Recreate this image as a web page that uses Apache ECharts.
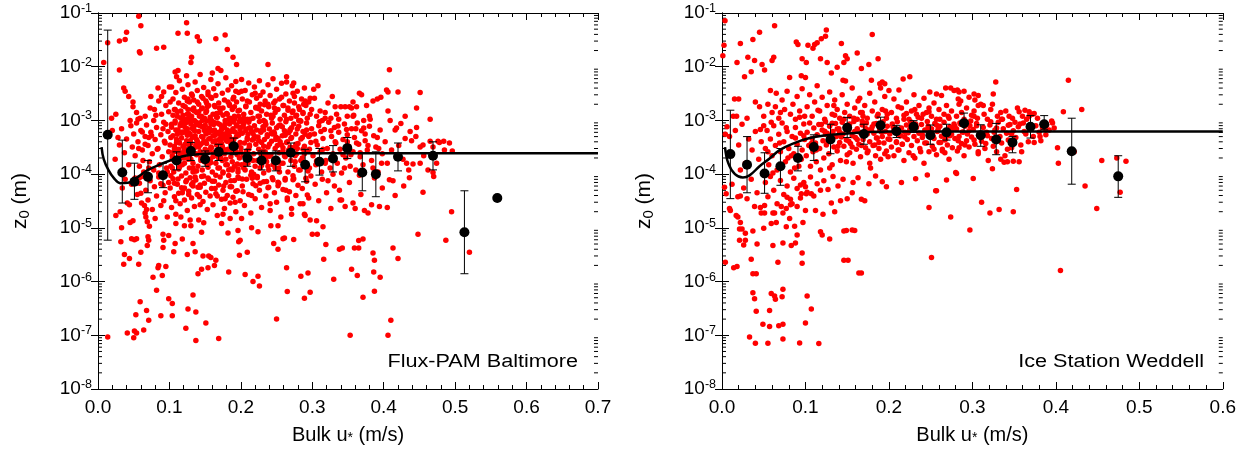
<!DOCTYPE html>
<html><head><meta charset="utf-8">
<script src="https://cdn.jsdelivr.net/npm/echarts@6/dist/echarts.min.js"></script>
<style>html,body{margin:0;padding:0;background:#fff}#c{width:1239px;height:455px}</style>
</head><body><div id="c"></div>
<script>
// ---------- DATA ----------
const xTicksLeft = [0,0.1,0.2,0.3,0.4,0.5,0.6,0.7];
const xTicksRight = [0,0.1,0.2,0.3,0.4,0.5,0.6];
const yDecades = [1e-8,1e-7,1e-6,1e-5,1e-4,1e-3,1e-2,1e-1];

const leftScatter = [
[0.008,1.2e-2],[0.0135,2.8e-2],[0.030,3.0e-2],[0.038,3.2e-2],[0.040,4.4e-2],[0.030,8.7e-3],[0.057,8.7e-2],[0.060,5.8e-2],[0.058,1.9e-2],[0.059,1.8e-2],[0.082,2.2e-2],[0.092,2.3e-2],[0.112,4.2e-2],[0.124,6.6e-2],[0.125,4.2e-2],[0.131,1.5e-2],[0.130,1.2e-2],[0.139,3.6e-2],[0.142,3.0e-2],[0.178,3.9e-2],[0.181,2.1e-2],[0.189,1.5e-2],[0.194,1.1e-2],[0.168,9.3e-3],[0.160,7.6e-3],[0.108,8.0e-3],[0.110,6.5e-3],[0.238,1.1e-2],[0.264,6.5e-3],[0.165,3.3e-2],[0.408,8.8e-3],
[0.019,1.1e-3],[0.036,4e-3],[0.038,3.5e-3],[0.043,2.8e-3],[0.049,2.2e-3],[0.049,1.8e-3],[0.025,1.3e-3],[0.045,1.0e-3],
[0.059,1.1e-3],[0.066,1.2e-3],[0.074,2.8e-3],[0.073,1.7e-3],[0.081,1.25e-3],[0.084,4e-3],[0.089,2.8e-3],[0.089,1.3e-3],[0.092,3.4e-3],[0.095,1.9e-3],[0.099,1.45e-3],[0.1,4.2e-3],[0.056,1.05e-3],[0.078,1.0e-3],
[0.103,4.2e-3],[0.105,2.5e-3],[0.107,1.6e-3],[0.109,3.3e-3],[0.111,1.2e-3],[0.113,2.1e-3],[0.114,5.5e-3],[0.116,1.5e-3],[0.118,3.8e-3],[0.119,1.05e-3],[0.121,2.7e-3],[0.122,1.8e-3],[0.124,6.8e-3],[0.125,1.3e-3],[0.126,4.6e-3],[0.128,2.2e-3],[0.129,1.1e-3],[0.131,3.1e-3],[0.132,1.6e-3],[0.134,2.4e-3],[0.135,1.0e-3],[0.136,5.2e-3],[0.138,1.4e-3],[0.139,3.6e-3],[0.141,2.0e-3],[0.142,1.2e-3],[0.143,7.2e-3],[0.145,2.8e-3],[0.146,1.7e-3],[0.148,4.1e-3],[0.149,1.1e-3],[0.151,2.3e-3],[0.152,1.5e-3],[0.154,3.4e-3],[0.155,1.9e-3],[0.157,1.05e-3],[0.158,5.8e-3],[0.159,2.6e-3],[0.161,1.3e-3],[0.162,3.9e-3],[0.164,1.8e-3],[0.165,2.9e-3],[0.167,1.15e-3],[0.168,4.8e-3],[0.169,2.1e-3],[0.171,1.4e-3],[0.172,8.5e-3],[0.174,3.2e-3],[0.175,1.7e-3],[0.177,2.4e-3],[0.178,1.0e-3],[0.179,6.2e-3],[0.181,1.3e-3],[0.182,3.7e-3],[0.184,2.0e-3],[0.185,1.1e-3],[0.187,4.4e-3],[0.188,1.6e-3],[0.19,2.7e-3],[0.191,1.2e-3],[0.193,5.3e-3],[0.194,2.2e-3],[0.196,1.5e-3],[0.197,3.3e-3],[0.199,1.05e-3],[0.112,8.5e-3],
[0.201,5.8e-3],[0.202,2.5e-3],[0.204,1.3e-3],[0.206,3.6e-3],[0.207,1.8e-3],[0.209,1.05e-3],[0.211,5.0e-3],[0.212,2.2e-3],[0.214,1.4e-3],[0.216,3.0e-3],[0.217,1.1e-3],[0.219,4.2e-3],[0.221,1.7e-3],[0.222,2.6e-3],[0.224,1.2e-3],[0.226,5.5e-3],[0.227,2.0e-3],[0.229,1.5e-3],[0.231,3.4e-3],[0.232,1.0e-3],[0.234,2.3e-3],[0.236,1.3e-3],[0.238,4.6e-3],[0.239,1.8e-3],[0.241,2.9e-3],[0.243,1.1e-3],[0.245,6.0e-3],[0.246,2.1e-3],[0.248,1.4e-3],[0.25,3.8e-3],[0.252,1.6e-3],[0.254,2.5e-3],[0.255,1.05e-3],[0.257,4.9e-3],[0.259,1.9e-3],[0.261,1.25e-3],[0.263,3.1e-3],[0.264,5.2e-3],[0.266,1.7e-3],[0.268,2.3e-3],[0.27,1.1e-3],[0.272,4.4e-3],[0.273,1.5e-3],[0.275,2.8e-3],[0.277,1.2e-3],[0.279,3.5e-3],[0.281,1.8e-3],[0.283,1.0e-3],[0.285,2.5e-3],[0.287,1.4e-3],[0.289,4.0e-3],[0.291,1.9e-3],[0.293,1.1e-3],[0.295,2.2e-3],[0.297,1.3e-3],[0.299,1.6e-3],[0.274,5e-3],[0.273,3.2e-3],[0.29,2.3e-3],[0.297,2.6e-3],
[0.303,2.6e-3],[0.306,1.2e-3],[0.311,1.5e-3],[0.308,4.4e-3],[0.314,1.0e-3],[0.318,1.4e-3],[0.322,2.1e-3],[0.326,1.1e-3],[0.332,1.8e-3],[0.334,1.3e-3],[0.337,1.05e-3],[0.340,1.8e-3],[0.346,1.8e-3],[0.349,1.2e-3],[0.352,1.8e-3],[0.355,1.7e-3],[0.357,2.2e-3],[0.362,1.8e-3],[0.366,3.2e-3],[0.369,3.0e-3],[0.372,1.0e-3],[0.376,1.9e-3],[0.380,1.2e-3],[0.385,2.3e-3],[0.391,2.5e-3],[0.396,2.7e-3],[0.404,3.7e-3],[0.406,3.4e-3],[0.406,1.5e-3],[0.409,1.0e-3],[0.42,3.4e-3],[0.446,1.7e-3],[0.451,3.3e-3],[0.430,1.2e-3],[0.465,1.05e-3],
[0.02,6.5e-4],[0.024,1.9e-4],[0.03,3.5e-4],[0.033,7e-4],[0.037,2.5e-4],[0.04,4.5e-4],[0.043,1.5e-4],[0.046,8e-4],[0.048,3.2e-4],[0.05,5.6e-4],[0.035,1.2e-4],[0.028,4.8e-4],
[0.052,2.2e-4],[0.054,9e-4],[0.056,4e-4],[0.058,1.4e-4],[0.06,6.5e-4],[0.062,2.8e-4],[0.064,1.1e-4],[0.066,5e-4],[0.068,8.2e-4],[0.07,3.4e-4],[0.072,1.7e-4],[0.074,6e-4],[0.076,2.4e-4],[0.078,1.2e-4],[0.08,4.4e-4],[0.082,7.4e-4],[0.084,3e-4],[0.086,1.5e-4],[0.088,5.4e-4],[0.09,2.1e-4],[0.092,9.2e-4],[0.094,3.8e-4],[0.096,1.3e-4],[0.098,6.2e-4],[0.099,2.6e-4],[0.063,1.8e-4],[0.071,4.8e-4],[0.085,1.05e-4],[0.091,7e-4],[0.057,3e-4],
[0.101,3.5e-4],[0.102,1.4e-4],[0.103,7.5e-4],[0.104,2.2e-4],[0.105,5.2e-4],[0.106,1.1e-4],[0.107,3.0e-4],[0.108,9.0e-4],[0.109,1.7e-4],[0.11,4.4e-4],[0.111,2.6e-4],[0.112,6.6e-4],[0.113,1.25e-4],[0.114,3.8e-4],[0.115,8.0e-4],[0.116,2.0e-4],[0.117,5.8e-4],[0.118,1.5e-4],[0.119,3.3e-4],[0.12,9.6e-4],[0.121,2.4e-4],[0.122,6.0e-4],[0.123,1.05e-4],[0.124,4.2e-4],[0.125,7.0e-4],[0.126,1.9e-4],[0.127,3.6e-4],[0.128,1.3e-4],[0.129,5.5e-4],[0.13,8.6e-4],[0.131,2.8e-4],[0.132,4.8e-4],[0.133,1.6e-4],[0.134,6.8e-4],[0.135,3.1e-4],[0.136,1.15e-4],[0.137,9.3e-4],[0.138,2.3e-4],[0.139,4.1e-4],[0.14,1.4e-4],[0.141,6.2e-4],[0.142,3.4e-4],[0.143,8.0e-4],[0.144,2.0e-4],[0.145,5.0e-4],[0.146,1.2e-4],[0.147,3.9e-4],[0.148,7.4e-4],[0.149,1.7e-4],[0.15,2.9e-4],[0.151,5.6e-4],[0.152,9.8e-4],[0.153,2.5e-4],[0.154,1.35e-4],[0.155,4.5e-4],[0.156,7.2e-4],[0.157,1.9e-4],[0.158,3.2e-4],[0.159,6.4e-4],[0.16,1.1e-4],[0.161,4.0e-4],[0.162,8.4e-4],[0.163,2.2e-4],[0.164,5.3e-4],[0.165,1.6e-4],[0.166,3.5e-4],[0.167,9.0e-4],[0.168,2.7e-4],[0.169,6.0e-4],[0.17,1.3e-4],[0.171,4.6e-4],[0.172,2.0e-4],[0.173,7.8e-4],[0.174,3.3e-4],[0.175,1.05e-4],[0.176,5.5e-4],[0.177,2.4e-4],[0.178,8.8e-4],[0.179,1.5e-4],[0.18,4.2e-4],[0.181,6.6e-4],[0.182,2.9e-4],[0.183,1.2e-4],[0.184,5.0e-4],[0.185,9.5e-4],[0.186,2.1e-4],[0.187,3.7e-4],[0.188,1.7e-4],[0.189,7.0e-4],[0.19,4.4e-4],[0.191,1.4e-4],[0.192,6.1e-4],[0.193,2.6e-4],[0.194,8.2e-4],[0.195,3.4e-4],[0.196,1.1e-4],[0.197,5.3e-4],[0.198,2.0e-4],[0.199,7.5e-4],[0.2,3.1e-4],
[0.201,1.5e-4],[0.202,5.8e-4],[0.203,2.3e-4],[0.204,8.7e-4],[0.205,3.8e-4],[0.206,1.2e-4],[0.207,6.4e-4],[0.208,2.7e-4],[0.209,4.7e-4],[0.21,1.6e-4],[0.211,9.2e-4],[0.212,3.3e-4],[0.213,2.0e-4],[0.214,7.0e-4],[0.215,1.1e-4],[0.216,4.3e-4],[0.217,5.7e-4],[0.218,2.4e-4],[0.219,8.0e-4],[0.22,1.4e-4],[0.221,3.6e-4],[0.222,6.6e-4],[0.223,1.8e-4],[0.224,4.9e-4],[0.225,2.9e-4],[0.226,9.6e-4],[0.227,1.3e-4],[0.228,6.0e-4],[0.229,3.9e-4],[0.23,2.2e-4],[0.231,7.6e-4],[0.232,1.05e-4],[0.233,4.4e-4],[0.234,2.6e-4],[0.235,8.5e-4],[0.236,1.7e-4],[0.237,5.4e-4],[0.238,3.2e-4],[0.239,1.2e-4],[0.24,6.9e-4],[0.242,2.3e-4],[0.243,4.1e-4],[0.244,9.0e-4],[0.245,1.5e-4],[0.247,5.8e-4],[0.248,3.0e-4],[0.249,1.9e-4],[0.25,7.3e-4],[0.252,4.6e-4],[0.253,1.3e-4],[0.254,2.5e-4],[0.255,8.2e-4],[0.257,3.5e-4],[0.258,5.2e-4],[0.259,1.6e-4],[0.261,6.4e-4],[0.262,2.1e-4],[0.263,9.4e-4],[0.265,4.0e-4],[0.266,1.1e-4],[0.267,2.8e-4],[0.269,6.8e-4],[0.27,1.8e-4],[0.271,4.8e-4],[0.273,3.1e-4],[0.274,8.6e-4],[0.275,1.4e-4],[0.277,5.6e-4],[0.278,2.4e-4],[0.28,3.7e-4],[0.281,7.8e-4],[0.283,1.2e-4],[0.284,4.5e-4],[0.286,2.0e-4],[0.287,6.2e-4],[0.289,3.3e-4],[0.29,1.6e-4],[0.292,9.0e-4],[0.293,2.7e-4],[0.295,5.0e-4],[0.296,1.3e-4],[0.298,3.9e-4],[0.299,7.0e-4],
[0.301,2.2e-4],[0.303,5.6e-4],[0.305,1.5e-4],[0.307,3.5e-4],[0.309,8.0e-4],[0.311,2.6e-4],[0.313,1.1e-4],[0.315,4.6e-4],[0.317,6.8e-4],[0.319,1.8e-4],[0.321,3.0e-4],[0.323,9.2e-4],[0.325,1.3e-4],[0.327,5.0e-4],[0.329,2.4e-4],[0.331,7.4e-4],[0.333,3.8e-4],[0.335,1.6e-4],[0.337,6.0e-4],[0.339,2.9e-4],[0.341,1.05e-4],[0.343,4.4e-4],[0.345,8.6e-4],[0.347,2.0e-4],[0.349,5.4e-4],[0.351,3.3e-4],[0.353,1.4e-4],[0.355,7.0e-4],[0.357,2.6e-4],[0.359,4.8e-4],[0.361,1.2e-4],[0.363,9.0e-4],[0.365,3.6e-4],[0.367,2.1e-4],[0.369,6.4e-4],[0.371,1.5e-4],[0.374,4.2e-4],[0.377,2.8e-4],[0.38,7.8e-4],[0.383,1.8e-4],[0.386,5.2e-4],[0.389,3.2e-4],[0.392,1.1e-4],[0.395,6.6e-4],[0.398,2.4e-4],
[0.418,7.2e-4],[0.416,6.6e-4],[0.446,7.4e-4],[0.445,5.0e-4],[0.439,4.2e-4],[0.451,3.2e-4],[0.455,3.5e-4],[0.465,4.1e-4],[0.476,4.1e-4],[0.484,4.1e-4],[0.485,2.8e-4],[0.469,3.2e-4],[0.474,1.6e-4],[0.469,1.07e-4],[0.408,7.9e-5],[0.435,1.2e-4],[0.432,1.6e-4],[0.441,1.55e-4],[0.451,1.6e-4],[0.402,4.0e-4],[0.405,1.6e-4],[0.411,2.8e-4],[0.421,3.4e-4],[0.424,8.8e-4],[0.427,1.9e-4],[0.43,4.6e-4],[0.437,6.2e-4],[0.492,3.8e-4],[0.496,2.7e-4],[0.478,3.9e-4],[0.456,2.2e-4],[0.462,1.2e-4],
[0.025,1.7e-5],[0.031,2e-5],[0.041,2.9e-5],[0.044,2.7e-5],[0.045,1.26e-5],[0.049,1.35e-5],[0.038,8e-5],[0.034,5.5e-5],[0.047,6.5e-5],
[0.052,8.5e-5],[0.055,4.2e-5],[0.058,6.8e-5],[0.061,2.9e-5],[0.064,9e-5],[0.065,2.6e-5],[0.066,1.9e-5],[0.067,1.6e-5],[0.067,5e-5],[0.07,3.3e-5],[0.073,7.5e-5],[0.076,2.2e-5],[0.079,5.8e-5],[0.082,3.9e-5],[0.085,8.8e-5],[0.088,2.6e-5],[0.091,6.2e-5],[0.094,4.5e-5],[0.097,1.6e-5],[0.099,7e-5],[0.08,1.5e-5],[0.092,3.2e-5],
[0.101,5.5e-5],[0.103,2.4e-5],[0.105,8.2e-5],[0.107,3.8e-5],[0.109,1.8e-5],[0.111,6.5e-5],[0.113,4.4e-5],[0.115,2.8e-5],[0.117,9.2e-5],[0.119,5.2e-5],[0.121,3.3e-5],[0.123,7.2e-5],[0.125,2.1e-5],[0.127,4.8e-5],[0.129,8.6e-5],[0.131,3.6e-5],[0.133,6.0e-5],[0.135,2.5e-5],[0.137,7.8e-5],[0.139,4.2e-5],[0.141,1.4e-5],[0.143,5.7e-5],[0.145,9.0e-5],[0.147,3.1e-5],[0.149,6.8e-5],[0.151,4.6e-5],[0.153,2.2e-5],[0.155,8.0e-5],[0.157,3.9e-5],[0.159,5.4e-5],[0.161,2.7e-5],[0.163,7.4e-5],[0.165,4.3e-5],[0.167,1.7e-5],[0.169,6.3e-5],[0.171,8.8e-5],[0.173,3.4e-5],[0.175,5.0e-5],[0.177,2.3e-5],[0.179,7.0e-5],[0.181,4.0e-5],[0.183,9.4e-5],[0.185,2.9e-5],[0.187,5.8e-5],[0.189,3.7e-5],[0.191,7.6e-5],[0.193,2.0e-5],[0.195,4.9e-5],[0.197,8.4e-5],[0.199,3.2e-5],
[0.202,6.0e-5],[0.205,2.6e-5],[0.208,8.0e-5],[0.211,4.2e-5],[0.214,1.9e-5],[0.217,6.6e-5],[0.22,3.5e-5],[0.223,9.0e-5],[0.226,5.0e-5],[0.229,2.4e-5],[0.232,7.2e-5],[0.235,3.9e-5],[0.238,5.6e-5],[0.241,2.1e-5],[0.244,8.6e-5],[0.247,4.5e-5],[0.25,3.0e-5],[0.253,6.8e-5],[0.256,1.6e-5],[0.259,5.2e-5],[0.262,7.8e-5],[0.265,3.3e-5],[0.268,4.7e-5],[0.271,2.3e-5],[0.274,8.2e-5],[0.277,4.0e-5],[0.28,6.2e-5],[0.283,2.8e-5],[0.286,5.4e-5],[0.289,1.8e-5],[0.292,7.4e-5],[0.295,3.6e-5],[0.298,9.2e-5],
[0.304,6.5e-5],[0.309,3.2e-5],[0.314,8.0e-5],[0.320,4.5e-5],[0.326,2.3e-5],[0.331,6.0e-5],[0.339,3.3e-5],[0.346,2.5e-5],[0.357,2.9e-5],[0.36,2.3e-5],[0.373,2.1e-5],[0.378,1.9e-5],[0.383,2.7e-5],[0.394,2.5e-5],[0.352,7.0e-5],[0.368,4.2e-5],[0.387,8.5e-5],[0.398,5.5e-5],[0.405,2.4e-5],[0.413,7.5e-5],[0.416,4.0e-5],[0.428,6.0e-5],[0.436,8.6e-5],[0.455,4.6e-5],[0.470,9e-5],[0.495,2.0e-5],[0.287,2.8e-5],[0.29,1.7e-5],[0.271,1.8e-5],[0.297,1.4e-5],[0.306,1.35e-5],[0.315,1.05e-5],
[0.033,1e-5],[0.032,5.5e-6],[0.037,3.2e-6],[0.036,2.1e-6],[0.047,6.3e-6],[0.051,6e-6],[0.054,6.3e-6],[0.044,2.7e-6],[0.057,2.1e-6],[0.06,3.5e-6],[0.069,1.3e-5],[0.072,1.07e-5],[0.07,6.8e-6],[0.071,5.9e-6],[0.069,4.7e-6],[0.077,1.2e-6],[0.084,1.8e-6],[0.085,2e-6],[0.09,1.3e-6],[0.095,1.9e-6],[0.109,1.2e-5],[0.121,1.1e-5],[0.13,1.1e-5],[0.129,1.4e-5],[0.116,1.6e-5],[0.091,7.6e-6],[0.099,7.2e-6],[0.108,5.1e-6],[0.118,6.2e-6],[0.125,3.2e-6],[0.106,3.6e-6],[0.091,4.3e-6],[0.092,5.9e-6],[0.133,5.1e-6],[0.136,3.6e-6],[0.147,3e-6],[0.155,3e-6],[0.158,2.8e-6],[0.165,2.5e-6],[0.145,1.7e-6],[0.154,1.8e-6],[0.14,1.4e-6],[0.163,2e-6],[0.183,1.5e-6],[0.206,1.35e-6],[0.217,1e-6],[0.224,1.26e-6],[0.226,8.3e-7],[0.198,3.1e-6],[0.197,5.5e-6],[0.199,5.9e-6],[0.209,3.5e-6],[0.224,8.5e-6],[0.215,1e-5],[0.196,8.9e-6],[0.182,8e-6],[0.185,1.5e-5],[0.173,1.2e-5],[0.145,8.3e-6],[0.148,1.25e-5],[0.175,1.8e-5],[0.201,1.5e-5],[0.242,1.1e-5],[0.252,1.1e-5],[0.246,5.1e-6],[0.252,4e-6],[0.259,6.3e-6],[0.261,6.5e-6],[0.274,6.1e-6],[0.264,1.8e-6],[0.3,7.6e-6],[0.307,7.6e-6],[0.319,4.9e-6],[0.316,2.6e-6],[0.338,4e-6],[0.342,4.2e-6],[0.359,4.2e-6],[0.365,4.2e-6],[0.371,6.2e-6],[0.365,5.8e-6],[0.385,3.4e-6],[0.387,2.5e-6],[0.413,4.2e-6],[0.42,2.7e-6],[0.448,7.6e-6],[0.487,5.9e-6],[0.52,3.5e-6],[0.355,1.7e-6],[0.363,1.3e-6],[0.386,1.5e-6],[0.395,1.2e-6],[0.33,1.1e-6],[0.284,1.26e-6],[0.294,1.45e-6],
[0.0136,9.3e-8],[0.041,1.1e-7],[0.05,9e-8],[0.051,1.2e-7],[0.054,1.1e-7],[0.064,1.26e-7],[0.053,2.4e-7],[0.059,4.2e-7],[0.068,2.9e-7],[0.071,1.9e-7],[0.082,6.9e-7],[0.088,2.3e-7],[0.099,4.8e-7],[0.104,3.9e-7],[0.104,2.3e-7],[0.123,1.35e-7],[0.133,5.6e-7],[0.126,3.1e-7],[0.137,2.7e-7],[0.137,8e-8],[0.151,1.7e-7],[0.169,8.7e-8],[0.25,2e-7],[0.265,6.5e-7],[0.297,6.3e-7],[0.289,4.9e-7],[0.387,6.6e-7],[0.371,5.1e-7],[0.41,1.9e-7],[0.406,1e-7],[0.353,1e-7],
[0.104,1.9e-4],[0.187,6.3e-4],[0.143,2.7e-5],[0.226,1.2e-3],[0.118,8.1e-4],[0.265,3.6e-5],[0.152,3.7e-4],[0.209,2.3e-3],[0.133,1.1e-4],[0.244,5.6e-4],[0.171,1.6e-3],[0.289,2.4e-4],[0.127,4.2e-5],[0.196,1.25e-4],[0.158,8.8e-4],[0.232,3.3e-4],[0.111,1.45e-3],[0.279,6.9e-4],[0.164,5.4e-5],[0.217,1.8e-4],
[0.139,2.2e-3],[0.254,1.1e-4],[0.181,4.1e-4],[0.107,6.8e-5],[0.272,1.4e-3],[0.146,7.6e-4],[0.203,4.7e-5],[0.176,2.9e-4],[0.238,2.0e-3],[0.122,3.6e-4],[0.262,8.3e-5],[0.191,1.05e-3],[0.115,2.4e-4],[0.249,4.4e-4],[0.168,1.3e-4],[0.284,9.7e-4],[0.136,5.2e-4],[0.221,6.1e-5],[0.154,3.0e-3],[0.199,3.9e-4],
[0.129,9.5e-4],[0.276,1.7e-4],[0.161,2.1e-4],[0.212,7.3e-4],[0.102,4.8e-4],[0.241,2.8e-5],[0.184,1.9e-3],[0.148,9.2e-5],[0.267,5.9e-4],[0.119,1.25e-3],[0.229,1.45e-4],[0.173,6.7e-4],[0.293,4.1e-5],[0.141,3.2e-4],[0.206,1.6e-4],[0.257,2.7e-3],[0.124,7.7e-5],[0.189,2.6e-4],[0.234,8.1e-4],[0.157,4.6e-4],
[0.113,2.9e-4],[0.281,1.2e-4],[0.166,1.15e-3],[0.219,5.1e-4],[0.131,6.4e-5],[0.247,1.7e-3],[0.178,3.5e-5],[0.108,9.8e-4],[0.259,3.1e-4],[0.194,7.9e-4],[0.144,1.8e-4],[0.27,4.6e-4],[0.126,2.5e-3],[0.214,9.5e-5],[0.183,5.7e-4],[0.236,2.3e-4],[0.151,1.4e-3],[0.297,5.4e-4],[0.117,5.6e-5],[0.201,3.5e-3],
[0.162,2.5e-4],[0.228,6.4e-4],[0.134,1.7e-3],[0.252,7.1e-5],[0.17,8.5e-4],[0.287,2.9e-4],[0.121,1.6e-4],[0.193,4.8e-5],[0.242,1.25e-3],[0.155,5.9e-4],[0.106,2.6e-4],[0.264,1.05e-3],[0.186,3.6e-4],[0.223,8.6e-5],[0.138,4.4e-4],[0.275,2.1e-3],[0.16,7.4e-5],[0.207,6.9e-4],[0.128,3.4e-4],[0.25,1.9e-4],
[0.175,1.1e-4],[0.231,2.7e-4],[0.145,1.2e-3],[0.291,8.4e-5],[0.112,6.2e-4],[0.198,1.55e-3],[0.255,4.0e-4],[0.167,3.9e-5],[0.218,4.5e-4],[0.137,2.4e-4],[0.269,6.5e-4],[0.182,2.2e-3],[0.123,9.1e-4],[0.239,5.7e-5],[0.153,1.55e-4],[0.205,9.9e-4],[0.286,4.8e-4],[0.132,7.1e-4],[0.261,2.2e-4],[0.179,4.9e-4],
[0.109,3.2e-5],[0.225,1.65e-3],[0.149,6.5e-4],[0.195,2.3e-4],[0.245,7.9e-5],[0.116,1.1e-3],[0.277,3.6e-4],[0.163,1.9e-3],[0.211,2.9e-4],[0.14,5.7e-5],[0.258,7.6e-4],[0.188,1.2e-4],[0.125,5.3e-4],[0.233,1.95e-3],[0.172,3.9e-4],[0.294,1.15e-4],[0.147,2.6e-3],[0.215,4.0e-5],[0.103,8.5e-4],[0.268,2.6e-4],
[0.185,5.8e-5],[0.237,5.0e-4],[0.159,1.0e-3],[0.204,1.3e-4],[0.13,1.9e-4],[0.282,1.6e-3],[0.177,7.4e-4],[0.251,3.4e-4],[0.114,1.35e-4],[0.22,3.2e-3],[0.156,2.8e-4],[0.19,9.3e-4],[0.248,1.3e-4],[0.135,1.5e-3],[0.273,7.9e-5],[0.169,4.3e-4],[0.227,6.8e-5],[0.12,2.0e-4],[0.26,1.9e-3],[0.197,5.6e-4],
[0.142,3.8e-5],[0.213,1.05e-3],[0.174,1.8e-4],[0.246,6.1e-4],[0.11,3.9e-4],[0.288,2.0e-3],[0.165,5.8e-4],[0.202,8.1e-5],[0.127,1.3e-3],[0.235,2.0e-4],[0.18,1.35e-3],[0.263,5.0e-5],[0.15,8.1e-4],[0.192,3.0e-5],[0.24,3.6e-4],[0.118,4.5e-5],[0.279,3.0e-4],[0.158,1.65e-4],[0.21,5.5e-4],[0.136,8.8e-5],
[0.062,6.1e-4],[0.085,2.3e-3],[0.071,1.3e-4],[0.093,4.1e-4],[0.058,8.6e-5],[0.079,1.6e-3],[0.097,1.1e-4],[0.066,3.6e-4],[0.088,6.6e-5],[0.054,1.4e-3],[0.075,5.2e-4],[0.095,8.5e-4],[0.068,2.2e-5],[0.083,2.9e-4],[0.06,4.4e-5],
[0.312,6.2e-4],[0.345,1.3e-4],[0.328,2.8e-3],[0.362,3.8e-4],[0.306,1.75e-4],[0.338,5.0e-5],[0.372,7.2e-4],[0.318,1.1e-3],[0.354,2.3e-4],[0.385,1.3e-4],[0.332,4.0e-4],[0.366,9.5e-5],[0.302,3.8e-3],[0.348,6.8e-4],[0.378,3.4e-4],[0.322,7.5e-5],[0.391,4.8e-4],[0.358,1.25e-3],[0.341,3.3e-5],[0.397,1.6e-4],
[0.105,1.25e-3],[0.163,6.6e-4],[0.128,2.1e-4],[0.191,1.8e-3],[0.117,4.7e-4],[0.146,1.0e-3],[0.178,2.7e-4],[0.109,6.6e-4],[0.156,1.6e-4],[0.184,8.6e-4],[0.132,2.9e-3],[0.171,5.5e-4],[0.121,3.0e-4],[0.197,1.2e-3],[0.139,8.3e-4],[0.152,2.1e-3],[0.113,1.7e-4],[0.187,4.3e-4],[0.144,3.6e-4],[0.166,1.35e-3],
[0.124,1.05e-3],[0.181,1.5e-4],[0.101,2.2e-3],[0.159,3.1e-4],[0.135,6.4e-4],[0.194,5.0e-4],[0.148,2.3e-4],[0.119,1.9e-3],[0.175,1.25e-3],[0.129,4.2e-4],[0.162,9.2e-4],[0.107,3.3e-4],[0.189,2.5e-3],[0.141,1.45e-3],[0.155,7.0e-4],[0.116,8.8e-4],[0.173,3.7e-4],[0.133,1.3e-4],[0.199,6.8e-4],[0.126,1.6e-3],
[0.169,2.0e-4],[0.111,5.5e-4],[0.147,4.8e-4],[0.183,1.05e-3],[0.138,1.15e-4],[0.158,2.7e-3],[0.122,7.4e-4],[0.192,3.0e-4],[0.104,1.3e-4],[0.176,7.9e-4],[0.143,2.6e-4],[0.164,4.2e-4],[0.131,1.2e-3],[0.186,1.25e-4],[0.114,3.9e-4],[0.153,1.8e-3],[0.198,9.6e-4],[0.127,5.9e-4],[0.17,1.7e-3],[0.137,3.5e-4],
[0.18,5.8e-4],[0.12,2.6e-4],[0.157,1.15e-3],[0.195,1.55e-4],[0.134,7.7e-4],[0.167,2.4e-4],[0.108,1.6e-3],[0.15,4.0e-4],[0.188,6.4e-4],[0.125,2.3e-3],[0.174,4.6e-4],[0.142,9.0e-4],[0.112,2.05e-4],[0.161,5.2e-4],[0.193,3.5e-3],[0.13,3.8e-4],[0.179,1.9e-4],[0.145,1.65e-3],[0.118,6.1e-4],[0.185,2.9e-4],
[0.154,8.5e-5],[0.102,9.3e-5],[0.176,6.0e-5],[0.133,7.0e-5],[0.196,8.8e-5],[0.121,5.5e-5],[0.165,9.5e-5],[0.143,6.3e-5],[0.186,7.5e-5],[0.112,8.1e-5],
[0.204,1.1e-3],[0.262,5.3e-4],[0.228,2.4e-4],[0.287,1.35e-3],[0.215,6.2e-4],[0.248,2.3e-3],[0.276,2.2e-4],[0.209,4.4e-4],[0.256,1.6e-4],[0.234,9.4e-4],[0.292,6.6e-4],[0.221,1.75e-3],[0.269,3.2e-4],[0.243,5.8e-4],[0.2,2.6e-4],[0.281,1.0e-3],[0.238,1.4e-4],[0.266,1.55e-3],[0.212,3.5e-4],[0.253,8.0e-4],
[0.225,4.2e-4],[0.296,2.9e-4],[0.245,1.2e-3],[0.271,7.3e-4],[0.207,1.85e-3],[0.259,2.7e-4],[0.232,6.6e-4],[0.284,1.8e-4],[0.218,1.0e-4],[0.249,4.9e-4],[0.29,5.5e-4],[0.227,2.9e-3],[0.264,3.9e-4],[0.24,2.15e-4],[0.278,1.25e-3],[0.203,7.8e-4],[0.252,6.1e-5],[0.236,7.3e-5],[0.273,9.3e-5],[0.216,8.4e-5],
[0.305,4.1e-4],[0.336,7.9e-4],[0.367,2.5e-4],[0.318,1.6e-4],[0.349,4.0e-4],[0.381,1.05e-3],[0.326,6.4e-4],[0.357,1.2e-3],[0.31,9.5e-4],[0.343,2.3e-4],[0.374,5.6e-4],[0.329,1.0e-4],[0.361,7.0e-4],[0.315,2.9e-4],[0.393,3.0e-4]
];

const rightScatter = [
[0.0036,7.2e-2],[0.0024,2.5e-2],[0.001,1.6e-2],[0.022,2.7e-2],[0.018,1.2e-2],[0.027,6.5e-3],[0.031,1.5e-2],[0.037,3.2e-2],[0.045,4.4e-2],[0.035,8.1e-3],[0.039,1.3e-2],[0.048,1.1e-2],[0.051,8.7e-3],[0.06,1.3e-2],[0.062,1.5e-2],[0.063,5.8e-2],[0.081,6.3e-3],[0.089,2.9e-2],[0.091,2.6e-2],[0.096,1.4e-2],[0.101,1.2e-2],[0.095,6.8e-3],[0.1,6.3e-3],[0.103,2.5e-2],[0.109,2.2e-2],[0.111,2.6e-2],[0.114,2.8e-2],[0.119,3.3e-2],[0.124,3.7e-2],[0.125,4.8e-2],[0.118,1.4e-2],[0.126,1.2e-2],[0.131,7.6e-3],[0.138,9.8e-3],[0.143,2.7e-2],[0.146,1.2e-2],[0.148,1.6e-2],[0.15,1.4e-2],[0.162,1.8e-2],[0.167,9.3e-3],[0.176,1.1e-2],[0.18,4e-2],[0.187,1.4e-2],[0.145,5.6e-3],[0.148,5.4e-3],[0.179,5.6e-3],[0.192,5.2e-3],[0.195,4.8e-3],[0.217,5.9e-3],[0.225,6.5e-3],[0.328,5.2e-3],[0.415,5.6e-3],
[0.249,3.4e-3],[0.257,3.1e-3],[0.268,4e-3],[0.274,4e-3],[0.282,3.7e-3],[0.284,3.4e-3],[0.29,3.5e-3],[0.283,2.5e-3],[0.286,2.3e-3],[0.302,3.1e-3],[0.307,2.9e-3],[0.303,2.4e-3],[0.307,1.9e-3],[0.313,1.9e-3],[0.325,3.1e-3],[0.324,2e-3],[0.334,1.4e-3],[0.354,1.7e-3],[0.356,1.45e-3],[0.363,1.55e-3],[0.368,1.2e-3],[0.374,1.35e-3],[0.344,1.2e-3],[0.431,1.6e-3],[0.409,1.45e-3],[0.395,9.8e-4],
[0.015,2.5e-3],[0.02,2.5e-3],[0.0135,1.2e-3],[0.0175,1.2e-3],[0.04,2.2e-3],[0.045,1.8e-3],[0.05,1.2e-3],[0.055,2.0e-3],[0.06,1.4e-3],[0.065,3.2e-3],[0.068,1.1e-3],[0.072,2.4e-3],[0.075,1.6e-3],[0.078,3.5e-3],[0.082,1.3e-3],[0.085,2.0e-3],[0.088,1.05e-3],[0.09,2.8e-3],[0.093,1.5e-3],[0.096,3.9e-3],[0.099,1.2e-3],[0.03,1.1e-3],[0.058,3.6e-3],[0.07,1.4e-3],
[0.102,1.8e-3],[0.105,3.0e-3],[0.108,1.2e-3],[0.111,2.2e-3],[0.114,4.4e-3],[0.117,1.5e-3],[0.12,2.7e-3],[0.123,1.05e-3],[0.126,1.9e-3],[0.129,3.4e-3],[0.132,1.3e-3],[0.135,2.4e-3],[0.138,1.6e-3],[0.141,1.1e-3],[0.144,3.0e-3],[0.147,1.4e-3],[0.15,2.0e-3],[0.153,1.2e-3],[0.156,4.0e-3],[0.159,1.7e-3],[0.162,1.05e-3],[0.165,2.6e-3],[0.168,1.4e-3],[0.171,1.9e-3],[0.174,1.1e-3],[0.177,3.2e-3],[0.18,1.5e-3],[0.183,2.2e-3],[0.186,1.2e-3],[0.189,4.8e-3],[0.192,1.6e-3],[0.195,2.8e-3],[0.198,1.3e-3],[0.19,4.0e-3],[0.2,3.6e-3],
[0.203,1.4e-3],[0.206,2.5e-3],[0.209,1.1e-3],[0.212,3.7e-3],[0.215,1.7e-3],[0.218,1.25e-3],[0.221,2.2e-3],[0.224,1.05e-3],[0.227,1.5e-3],[0.23,3.0e-3],[0.233,1.3e-3],[0.236,1.9e-3],[0.239,1.1e-3],[0.242,2.6e-3],[0.245,1.4e-3],[0.248,1.7e-3],[0.251,1.2e-3],[0.254,2.1e-3],[0.257,1.05e-3],[0.26,1.6e-3],[0.263,2.9e-3],[0.266,1.3e-3],[0.269,1.9e-3],[0.272,1.1e-3],[0.275,1.5e-3],[0.278,3.6e-3],[0.281,1.2e-3],[0.284,2.0e-3],[0.287,1.4e-3],[0.29,1.05e-3],[0.293,1.7e-3],[0.296,2.7e-3],[0.299,1.25e-3],
[0.302,1.5e-3],[0.306,1.1e-3],[0.31,2.0e-3],[0.314,1.3e-3],[0.318,1.05e-3],[0.322,1.6e-3],[0.33,1.2e-3],[0.336,1.05e-3],[0.34,1.5e-3],[0.348,1.1e-3],[0.36,1.2e-3],[0.365,1.05e-3],[0.372,1.3e-3],[0.378,1.1e-3],
[0.004,5.5e-4],[0.006,7.6e-4],[0.009,5e-4],[0.012,2.4e-4],[0.016,6.5e-4],[0.02,3.5e-4],[0.024,8.5e-4],[0.028,1.6e-4],[0.032,4.5e-4],[0.036,2.8e-4],[0.04,6.2e-4],[0.044,1.9e-4],[0.047,4.0e-4],[0.05,8.0e-4],[0.022,1.2e-4],
[0.052,3.0e-4],[0.054,6.5e-4],[0.056,1.5e-4],[0.058,4.5e-4],[0.06,2.2e-4],[0.062,8.0e-4],[0.064,3.4e-4],[0.066,1.2e-4],[0.068,5.5e-4],[0.07,2.6e-4],[0.072,9.0e-4],[0.074,4.0e-4],[0.076,1.7e-4],[0.078,6.2e-4],[0.08,3.0e-4],[0.082,1.1e-4],[0.084,5.0e-4],[0.086,2.4e-4],[0.088,7.4e-4],[0.09,3.6e-4],[0.092,1.4e-4],[0.094,5.8e-4],[0.096,2.8e-4],[0.098,8.6e-4],[0.099,4.4e-4],[0.061,1.05e-4],[0.079,2.0e-4],[0.087,1.3e-4],[0.095,1.9e-4],
[0.101,2.2e-4],[0.102,6.0e-4],[0.104,3.4e-4],[0.105,9.0e-4],[0.106,1.4e-4],[0.108,4.6e-4],[0.109,2.6e-4],[0.11,7.2e-4],[0.112,3.8e-4],[0.113,1.7e-4],[0.114,5.4e-4],[0.116,8.4e-4],[0.117,3.0e-4],[0.118,1.2e-4],[0.12,6.6e-4],[0.121,4.2e-4],[0.122,2.0e-4],[0.124,9.5e-4],[0.125,3.5e-4],[0.126,5.8e-4],[0.128,2.4e-4],[0.129,7.8e-4],[0.13,4.5e-4],[0.132,1.5e-4],[0.133,6.2e-4],[0.134,3.2e-4],[0.136,8.8e-4],[0.137,5.0e-4],[0.138,2.7e-4],[0.14,7.0e-4],[0.141,3.9e-4],[0.142,1.8e-4],[0.144,9.2e-4],[0.145,5.6e-4],[0.146,3.3e-4],[0.148,7.5e-4],[0.149,4.3e-4],[0.15,2.3e-4],[0.152,6.4e-4],[0.153,8.6e-4],[0.154,3.7e-4],[0.156,5.2e-4],[0.157,1.6e-4],[0.158,9.6e-4],[0.16,4.8e-4],[0.161,2.9e-4],[0.162,7.0e-4],[0.164,3.6e-4],[0.165,6.0e-4],[0.166,2.1e-4],[0.168,8.2e-4],[0.169,4.4e-4],[0.17,5.4e-4],[0.172,3.1e-4],[0.173,9.0e-4],[0.174,2.5e-4],[0.176,6.6e-4],[0.177,4.0e-4],[0.178,1.3e-4],[0.18,7.6e-4],[0.181,3.4e-4],[0.182,5.8e-4],[0.184,2.2e-4],[0.185,8.8e-4],[0.186,4.7e-4],[0.188,3.0e-4],[0.189,6.8e-4],[0.19,1.9e-4],[0.192,5.0e-4],[0.193,9.4e-4],[0.194,3.8e-4],[0.196,6.2e-4],[0.197,2.7e-4],[0.198,7.8e-4],[0.199,4.5e-4],
[0.201,5.6e-4],[0.203,3.2e-4],[0.204,8.6e-4],[0.206,2.2e-4],[0.207,6.4e-4],[0.209,4.0e-4],[0.21,9.4e-4],[0.212,2.8e-4],[0.213,5.2e-4],[0.215,7.2e-4],[0.216,3.6e-4],[0.218,1.8e-4],[0.219,6.0e-4],[0.221,8.2e-4],[0.222,4.4e-4],[0.224,2.5e-4],[0.225,6.8e-4],[0.227,3.4e-4],[0.228,9.0e-4],[0.23,5.0e-4],[0.231,2.0e-4],[0.233,7.4e-4],[0.234,4.2e-4],[0.236,5.8e-4],[0.237,3.0e-4],[0.239,8.4e-4],[0.24,4.8e-4],[0.242,1.6e-4],[0.243,6.6e-4],[0.245,3.8e-4],[0.246,9.6e-4],[0.248,2.6e-4],[0.249,5.4e-4],[0.251,7.0e-4],[0.252,3.3e-4],[0.254,4.6e-4],[0.255,8.8e-4],[0.257,2.3e-4],[0.258,6.2e-4],[0.26,3.9e-4],[0.261,7.8e-4],[0.263,5.1e-4],[0.264,2.9e-4],[0.266,9.2e-4],[0.267,4.3e-4],[0.269,6.4e-4],[0.27,3.5e-4],[0.272,1.9e-4],[0.273,7.6e-4],[0.275,5.5e-4],[0.276,3.1e-4],[0.278,8.6e-4],[0.279,4.6e-4],[0.281,6.9e-4],[0.282,2.7e-4],[0.284,5.0e-4],[0.285,9.0e-4],[0.287,3.7e-4],[0.288,6.1e-4],[0.29,2.2e-4],[0.291,7.8e-4],[0.293,4.2e-4],[0.294,5.6e-4],[0.296,3.2e-4],[0.297,8.0e-4],[0.299,4.9e-4],
[0.301,6.8e-4],[0.303,3.6e-4],[0.305,8.8e-4],[0.307,2.4e-4],[0.309,5.4e-4],[0.311,4.1e-4],[0.313,7.4e-4],[0.315,3.0e-4],[0.317,6.0e-4],[0.319,1.8e-4],[0.321,8.2e-4],[0.323,4.6e-4],[0.325,3.3e-4],[0.327,6.6e-4],[0.329,2.6e-4],[0.331,9.2e-4],[0.333,5.0e-4],[0.335,3.8e-4],[0.337,7.0e-4],[0.339,2.2e-4],[0.341,5.8e-4],[0.343,4.3e-4],[0.345,8.4e-4],[0.347,3.1e-4],[0.349,6.4e-4],[0.352,4.8e-4],[0.355,7.6e-4],[0.358,3.5e-4],[0.361,9.0e-4],[0.364,5.6e-4],[0.367,4.0e-4],[0.37,6.8e-4],[0.373,5.0e-4],[0.376,8.0e-4],[0.38,6.0e-4],[0.384,7.4e-4],[0.388,5.4e-4],[0.392,6.6e-4],[0.396,9.0e-4],[0.382,4.2e-4],[0.356,1.7e-4],[0.334,1.9e-4],[0.359,2.6e-4],[0.338,1.66e-4],[0.342,1.7e-4],[0.349,1.74e-4],[0.324,1.26e-4],[0.388,6.8e-4],[0.343,8.1e-4],
[0.402,3.1e-4],[0.403,1.6e-4],[0.422,2.6e-4],[0.455,1.8e-4],[0.473,2.0e-4],[0.484,1.74e-4],[0.435,6e-5],[0.449,2.3e-5],[0.477,4.6e-5],[0.4055,1.6e-6],
[0.003,5.7e-5],[0.005,4.3e-5],[0.010,2.1e-5],[0.019,1.6e-5],[0.009,2.3e-5],[0.004,2.3e-6],[0.017,1.7e-5],[0.019,3.8e-5],[0.022,3.9e-5],[0.022,1.26e-5],[0.021,9.5e-6],[0.024,9.5e-6],[0.028,7.9e-6],[0.021,5.9e-6],[0.028,5.9e-6],[0.026,4.8e-6],[0.014,1.8e-6],[0.018,1.9e-6],[0.035,2.6e-6],[0.037,1.4e-6],[0.041,1.4e-6],[0.037,8.7e-6],[0.042,5e-6],[0.026,5.5e-5],[0.030,3.5e-5],[0.035,8e-5],[0.042,4.5e-5],[0.046,2.4e-5],[0.039,2.5e-5],[0.012,6.5e-5],
[0.037,6.2e-7],[0.039,4.8e-7],[0.041,2.8e-7],[0.049,1.6e-7],[0.033,9.3e-8],[0.040,7.1e-8],[0.057,1.45e-7],[0.057,2.9e-7],[0.059,6e-7],[0.063,5.4e-7],[0.064,4.7e-7],[0.072,5.2e-7],[0.073,7.2e-7],[0.055,7.1e-8],[0.068,1.5e-7],[0.073,1.6e-7],[0.073,8.5e-8],[0.093,7.2e-8],[0.116,7e-8],[0.1,1.7e-7],[0.107,3.1e-7],[0.102,5.4e-7],
[0.067,2.3e-6],[0.073,5.2e-6],[0.061,4.7e-6],[0.083,4.7e-6],[0.088,5.2e-6],[0.09,7.4e-6],[0.096,3.4e-6],[0.096,2.2e-6],[0.05,9.8e-6],[0.059,1.2e-5],[0.065,1.26e-5],[0.047,1.9e-5],[0.051,1.9e-5],[0.061,1.9e-5],[0.063,1.9e-5],[0.051,2.6e-5],[0.071,2.5e-5],[0.077,2.3e-5],[0.082,2.7e-5],[0.09,2.5e-5],[0.073,1.9e-5],[0.077,1.05e-5],[0.081,1.5e-5],[0.087,1.07e-5],[0.097,1.26e-5],[0.1,2.1e-5],[0.112,2.1e-5],[0.121,1.8e-5],[0.131,2.9e-5],[0.135,2e-5],[0.118,8.5e-6],[0.12,7.4e-6],[0.129,6.2e-6],[0.146,8.7e-6],[0.156,9.1e-6],[0.146,2.5e-6],[0.164,1.45e-6],[0.142,3.2e-5],[0.15,3.5e-5],[0.156,4.5e-5],[0.167,3.4e-5],[0.095,4.3e-5],[0.101,4.3e-5],[0.107,4.3e-5],[0.082,3.4e-5],[0.084,2.8e-5],[0.078,3.7e-5],
[0.052,7.0e-5],[0.055,3.8e-5],[0.058,9.0e-5],[0.062,5.0e-5],[0.066,2.8e-5],[0.07,7.6e-5],[0.074,4.2e-5],[0.078,6.0e-5],[0.086,8.4e-5],[0.09,5.4e-5],[0.094,3.6e-5],[0.098,7.0e-5],[0.102,4.6e-5],[0.106,8.8e-5],[0.11,3.9e-5],[0.114,6.6e-5],[0.118,5.0e-5],[0.1,5.8e-5],[0.094,6.3e-5],
[0.122,7.5e-5],[0.127,5.2e-5],[0.133,9.0e-5],[0.139,6.0e-5],[0.145,8.0e-5],[0.157,7.0e-5],[0.163,8.6e-5],[0.171,3.2e-5],[0.176,6.6e-5],[0.184,9.2e-5],[0.192,7.2e-5],[0.197,5.8e-5],[0.149,8.9e-6],[0.159,8.9e-6],[0.151,2.5e-6],[0.167,1.45e-6],
[0.248,2.4e-5],[0.251,2.8e-6],[0.256,4.9e-5],[0.301,8.3e-5],[0.28,1.07e-4],[0.281,1.03e-4],[0.269,7.8e-5],[0.257,4.9e-5],[0.274,1.6e-5],[0.297,9.1e-6],[0.246,9.6e-5],[0.311,3e-5],[0.321,1.9e-5],[0.332,2.2e-5],[0.349,2e-5],[0.353,5.2e-5],[0.215,7.0e-5],[0.232,8.2e-5],
[0.113,2.8e-4],[0.187,1.3e-3],[0.245,6.6e-4],[0.152,4.1e-4],[0.298,9.8e-4],[0.134,1.9e-3],[0.216,3.6e-4],[0.172,7.1e-4],[0.267,2.5e-4],[0.124,5.5e-4],[0.235,1.15e-3],[0.195,2.4e-4],[0.31,4.7e-4],[0.146,1.05e-3],[0.257,8.2e-4],[0.107,3.7e-4],[0.223,5.9e-4],[0.163,2.3e-3],[0.284,3.1e-4],[0.138,6.9e-4],
[0.201,4.4e-4],[0.329,7.2e-4],[0.177,1.6e-4],[0.248,1.45e-3],[0.119,8.4e-4],[0.273,5.2e-4],[0.156,3.2e-4],[0.211,1.8e-3],[0.342,2.9e-4],[0.129,1.3e-4],[0.191,6.1e-4],[0.262,3.9e-4],[0.168,9.7e-4],[0.229,2.2e-4],[0.302,1.2e-3],[0.143,4.9e-4],[0.279,7.8e-4],[0.183,3.5e-4],[0.24,5.4e-4],[0.115,1.55e-3],
[0.205,7.6e-4],[0.316,3.7e-4],[0.159,6.2e-4],[0.254,2.9e-4],[0.132,8.9e-4],[0.221,1.35e-3],[0.289,6.0e-4],[0.175,2.7e-4],[0.351,9.2e-4],[0.149,1.7e-4],[0.197,1.1e-3],[0.268,4.5e-4],[0.123,6.3e-4],[0.232,8.6e-4],[0.185,4.7e-4],[0.307,2.6e-4],[0.166,1.4e-3],[0.259,6.9e-4],[0.139,3.3e-4],[0.214,5.2e-4],
[0.077,7.3e-4],[0.064,1.8e-3],[0.088,4.7e-4],[0.055,2.6e-4],[0.093,1.15e-3],[0.069,3.8e-4],[0.083,2.2e-4],[0.046,6.8e-4],[0.098,5.2e-4],[0.059,9.2e-4],
[0.362,6.2e-4],[0.374,3.9e-4],[0.335,1.05e-3],[0.389,8.2e-4],[0.347,5.6e-4],[0.368,1.45e-3],[0.326,6.0e-4],[0.381,5.0e-4],[0.357,8.6e-4],[0.398,7.2e-4],
[0.127,4.0e-4],[0.182,8.6e-4],[0.243,3.8e-4],[0.158,1.1e-3],[0.296,6.4e-4],[0.211,2.8e-4],[0.271,1.2e-3],[0.141,6.0e-4],[0.226,9.4e-4],[0.318,5.2e-4],[0.167,3.4e-4],[0.253,5.0e-4],[0.196,1.5e-3],[0.283,4.2e-4],[0.135,1.25e-3],[0.219,4.9e-4],[0.305,8.0e-4],[0.174,5.6e-4],[0.238,2.6e-4],[0.261,1.05e-3],
[0.149,8.0e-4],[0.206,6.6e-4],[0.291,3.5e-4],[0.188,3.9e-4],[0.231,1.6e-3],[0.276,6.9e-4],[0.162,4.4e-4],[0.322,9.5e-4],[0.247,7.8e-4],[0.199,2.1e-4],[0.131,5.4e-4],[0.264,2.7e-4],[0.218,1.05e-3],[0.179,6.8e-4],[0.302,4.3e-4],[0.153,2.5e-4],[0.241,1.3e-3],[0.286,8.5e-4],[0.209,3.9e-4],[0.169,1.2e-3]
];

const leftBinU = [0.0136,0.034,0.051,0.07,0.091,0.11,0.13,0.15,0.169,0.19,0.209,0.229,0.249,0.27,0.29,0.31,0.329,0.349,0.37,0.389,0.42,0.469,0.513,0.559];
const leftBinZ = [5.4e-4,1.07e-4,7.2e-5,8.9e-5,9.5e-5,1.8e-4,2.7e-4,1.9e-4,2.6e-4,3.3e-4,2.0e-4,1.8e-4,1.8e-4,2.5e-4,1.5e-4,1.7e-4,1.96e-4,3.05e-4,1.07e-4,1.0e-4,2.1e-4,2.2e-4,8.3e-6,3.6e-5];
const leftBinHi = [4.8e-2,4.3e-4,1.6e-4,1.8e-4,1.6e-4,2.6e-4,3.9e-4,2.7e-4,3.6e-4,4.7e-4,2.9e-4,2.7e-4,2.7e-4,3.8e-4,2.9e-4,3.0e-4,3.4e-4,4.8e-4,2.5e-4,2.6e-4,3.8e-4,4.0e-4,4.9e-5,null];
const leftBinLo = [5.9e-6,2.9e-5,3.4e-5,4.5e-5,5.6e-5,1.2e-4,1.8e-4,1.4e-4,1.8e-4,2.3e-4,1.4e-4,1.2e-4,1.15e-4,1.4e-4,7.2e-5,9.6e-5,1.1e-4,1.95e-4,4.9e-5,3.8e-5,1.15e-4,1.2e-4,1.4e-6,null];

const rightBinU = [0.010,0.030,0.051,0.070,0.091,0.110,0.130,0.150,0.170,0.190,0.209,0.2295,0.2496,0.269,0.290,0.310,0.3285,0.348,0.3696,0.386,0.419,0.4747];
const rightBinZ = [2.36e-4,1.5e-4,1.03e-4,1.4e-4,2.0e-4,3.2e-4,4.4e-4,7.3e-4,5.6e-4,8.1e-4,6.3e-4,7.6e-4,5.3e-4,6.0e-4,8.9e-4,5.3e-4,4.4e-4,3.9e-4,7.6e-4,8.5e-4,2.66e-4,9.1e-5];
const rightBinHi = [1.55e-3,5.0e-4,2.5e-4,3.0e-4,3.3e-4,5.4e-4,8.5e-4,1.14e-3,8.5e-4,1.15e-3,8.1e-4,9.9e-4,8.2e-4,8.5e-4,1.37e-3,8.3e-4,8.8e-4,5.0e-4,1.23e-3,1.23e-3,1.1e-3,2.2e-4];
const rightBinLo = [3.5e-5,4.5e-5,4.4e-5,6.2e-5,1.15e-4,1.8e-4,2.4e-4,4.8e-4,3.6e-4,5.9e-4,4.8e-4,6.0e-4,3.6e-4,4.3e-4,6.1e-4,3.3e-4,2.3e-4,2.5e-4,4.7e-4,6.7e-4,6.5e-5,3.7e-5];

const leftFitU = [0.005,0.008,0.0145,0.022,0.031,0.042,0.056,0.07,0.089,0.108,0.126,0.145,0.16,0.2,0.3,0.5,0.7];
const leftFitZ = [3.2e-4,1.9e-4,1.2e-4,8.5e-5,6.8e-5,6.9e-5,8.9e-5,1.2e-4,1.55e-4,1.95e-4,2.25e-4,2.38e-4,2.42e-4,2.45e-4,2.45e-4,2.45e-4,2.45e-4];
const rightFitU = [0.0036,0.0075,0.0155,0.025,0.033,0.045,0.057,0.069,0.085,0.105,0.125,0.157,0.2,0.3,0.4,0.6];
const rightFitZ = [3.2e-4,1.6e-4,1.0e-4,8.7e-5,9.5e-5,1.4e-4,1.95e-4,2.8e-4,3.7e-4,4.7e-4,5.3e-4,5.8e-4,6.2e-4,6.2e-4,6.2e-4,6.2e-4];

// minor log tick positions (2..9 x 10^n)
const yMinorTicks = [];
for (let n = -8; n <= -2; n++) for (let k = 2; k <= 9; k++) yMinorTicks.push(+(k * Math.pow(10, n)).toPrecision(2));

// ---------- CHART ----------
const FONT = 'Liberation Sans, Arial, sans-serif';
const chart = echarts.init(document.getElementById('c'), null, {renderer: 'canvas'});

function xAxes(gi, max, top) {
  return {
    type: 'value', gridIndex: gi, min: 0, max: max, interval: 0.1,
    position: top ? 'top' : 'bottom',
    axisLine: {show: true, onZero: false, lineStyle: {color: '#000', width: 1}},
    axisTick: {show: true, inside: true, length: 7, lineStyle: {color: '#000'}},
    minorTick: {show: true, splitNumber: 5, length: 4, lineStyle: {color: '#000'}},
    splitLine: {show: false},
    axisLabel: top ? {show: false} : {show: true, color: '#000', fontSize: 19, fontFamily: FONT, margin: 9,
      formatter: v => v.toFixed(1)},
    name: top ? '' : '{a|Bulk u}{s|*}{a| (m/s)}',
    nameLocation: 'middle', nameGap: 36,
    nameTextStyle: {rich: {a: {fontSize: 20, fontFamily: FONT, color: '#000'},
      s: {fontSize: 14, fontFamily: FONT, color: '#000', padding: [6, 0, 0, 0]}}}
  };
}
function yAxes(gi, right) {
  return {
    type: 'log', logBase: 10, gridIndex: gi, min: 1e-8, max: 1e-1, interval: 1,
    position: right ? 'right' : 'left',
    axisLine: {show: true, lineStyle: {color: '#000', width: 1}},
    axisTick: {show: true, inside: true, length: 7, lineStyle: {color: '#000'}},
    minorTick: {show: false},
    splitLine: {show: false},
    axisLabel: right ? {show: false} : {show: true, color: '#000', margin: 6,
      formatter: v => '{b|10}{s|' + Math.round(Math.log10(v)) + '}',
      rich: {b: {fontSize: 19, fontFamily: FONT, color: '#000'},
             s: {fontSize: 12.5, fontFamily: FONT, color: '#000', padding: [0, 0, 9, 0]}}},
    name: right ? '' : '{a|z}{s|0}{a| (m)}',
    nameLocation: 'middle', nameGap: 66, nameRotate: 90,
    nameTextStyle: {rich: {a: {fontSize: 21, fontFamily: FONT, color: '#000'},
      s: {fontSize: 15, fontFamily: FONT, color: '#000', padding: [9, 0, 0, 0]}}}
  };
}

function minorTickSeries(xi, yi, xmin) {
  return {
    type: 'custom', xAxisIndex: xi, yAxisIndex: yi, silent: true, clip: false, z: 1,
    data: yMinorTicks.map(v => [xmin, v]),
    encode: {x: 0, y: 1},
    renderItem: (params, api) => {
      const cs = params.coordSys;
      const y = api.coord([xmin, api.value(1)])[1];
      return {type: 'group', children: [
        {type: 'line', shape: {x1: cs.x, y1: y, x2: cs.x + 4, y2: y}, style: {stroke: '#000', lineWidth: 1}},
        {type: 'line', shape: {x1: cs.x + cs.width, y1: y, x2: cs.x + cs.width - 4, y2: y}, style: {stroke: '#000', lineWidth: 1}}
      ]};
    }
  };
}

function errorSeries(xi, yi, U, LO, HI) {
  const d = [];
  U.forEach((u, i) => { if (LO[i] != null && HI[i] != null) d.push([u, LO[i], HI[i]]); });
  return {
    type: 'custom', xAxisIndex: xi, yAxisIndex: yi, silent: true, z: 4,
    data: d, encode: {x: 0, y: [1, 2]},
    renderItem: (params, api) => {
      const p1 = api.coord([api.value(0), api.value(1)]);
      const p2 = api.coord([api.value(0), api.value(2)]);
      const w = 4;
      const st = {stroke: '#000', lineWidth: 1};
      return {type: 'group', children: [
        {type: 'line', shape: {x1: p1[0], y1: p1[1], x2: p2[0], y2: p2[1]}, style: st},
        {type: 'line', shape: {x1: p1[0] - w, y1: p1[1], x2: p1[0] + w, y2: p1[1]}, style: st},
        {type: 'line', shape: {x1: p2[0] - w, y1: p2[1], x2: p2[0] + w, y2: p2[1]}, style: st}
      ]};
    }
  };
}

const zip = (a, b) => a.map((v, i) => [v, b[i]]);
const redStyle = {color: '#ff0000', opacity: 1};

chart.setOption({
  animation: false,
  backgroundColor: '#fff',
  grid: [
    {left: 98, right: 641, top: 13, bottom: 66},
    {left: 722, right: 15, top: 13, bottom: 66}
  ],
  xAxis: [xAxes(0, 0.7, false), xAxes(1, 0.6, false), xAxes(0, 0.7, true), xAxes(1, 0.6, true)],
  yAxis: [yAxes(0, false), yAxes(1, false), yAxes(0, true), yAxes(1, true)],
  graphic: [
    {type: 'text', x: 578, y: 362, scaleX: 1.2, style: {text: 'Flux-PAM Baltimore', fontSize: 18, fontFamily: FONT, fill: '#000', align: 'right', verticalAlign: 'middle'}},
    {type: 'text', x: 1204, y: 362, scaleX: 1.2, style: {text: 'Ice Station Weddell', fontSize: 18, fontFamily: FONT, fill: '#000', align: 'right', verticalAlign: 'middle'}}
  ],
  series: [
    minorTickSeries(0, 0, 0), minorTickSeries(1, 1, 0),
    {type: 'scatter', xAxisIndex: 0, yAxisIndex: 0, data: leftScatter, symbolSize: 5.5, itemStyle: redStyle, z: 2, silent: true, large: false},
    {type: 'scatter', xAxisIndex: 1, yAxisIndex: 1, data: rightScatter, symbolSize: 5.5, itemStyle: redStyle, z: 2, silent: true, large: false},
    {type: 'line', xAxisIndex: 0, yAxisIndex: 0, data: zip(leftFitU, leftFitZ), smooth: 0.4, showSymbol: false, symbol: 'none', lineStyle: {color: '#000', width: 2.5}, z: 3, silent: true},
    {type: 'line', xAxisIndex: 1, yAxisIndex: 1, data: zip(rightFitU, rightFitZ), smooth: 0.4, showSymbol: false, symbol: 'none', lineStyle: {color: '#000', width: 2.5}, z: 3, silent: true},
    errorSeries(0, 0, leftBinU, leftBinLo, leftBinHi),
    errorSeries(1, 1, rightBinU, rightBinLo, rightBinHi),
    {type: 'scatter', xAxisIndex: 0, yAxisIndex: 0, data: zip(leftBinU, leftBinZ), symbolSize: 10, itemStyle: {color: '#000', opacity: 1}, z: 5, silent: true},
    {type: 'scatter', xAxisIndex: 1, yAxisIndex: 1, data: zip(rightBinU, rightBinZ), symbolSize: 10, itemStyle: {color: '#000', opacity: 1}, z: 5, silent: true}
  ]
});
</script></body></html>
